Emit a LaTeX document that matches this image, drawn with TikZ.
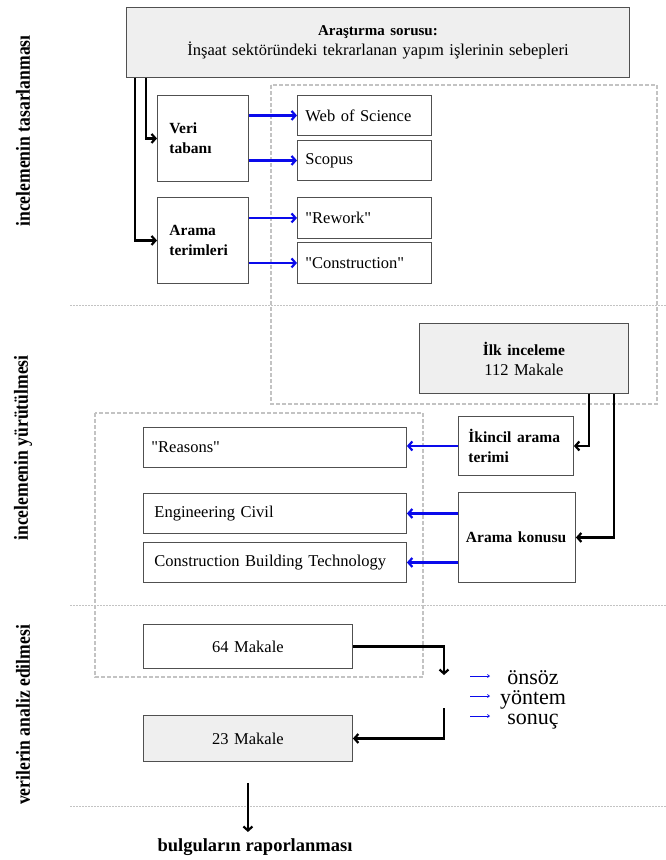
\documentclass[tikz,border=0pt]{standalone}
\usepackage{fontspec}
\setmainfont{Liberation Serif}
\usepackage{tikz}
\usetikzlibrary{arrows.meta,positioning,calc}
\definecolor{boxline}{RGB}{80,80,80}
\definecolor{boxfill}{RGB}{239,239,239}
\definecolor{dashgray}{RGB}{195,195,195}
\definecolor{arrblue}{RGB}{10,10,235}
\newcommand{\bx}{\fontsize{15.5}{23}\selectfont\bfseries}
\newcommand{\q}[1]{\textquotedbl#1\textquotedbl}
\newcommand{\side}[1]{\scalebox{0.88}[1]{\fontsize{20}{20}\selectfont\bfseries #1}}

\begin{document}
\begin{tikzpicture}[x=1pt,y=-1pt,
    box/.style={draw=boxline,line width=0.9pt,inner xsep=8pt,inner ysep=0pt,align=left,anchor=north west,font=\fontsize{16.5}{20}\selectfont},
    cbox/.style={box,align=center,inner xsep=0pt},
    gbox/.style={cbox,fill=boxfill},
    sidelabel/.style={rotate=90,inner sep=0pt},
    dashbox/.style={draw=dashgray,line width=1.1pt,dash pattern=on 4pt off 2pt},
    sep/.style={draw=dashgray,line width=0.8pt,dash pattern=on 2pt off 1pt},
    blk/.style={->,line width=2.2pt,black},
    blu/.style={->,line width=2.2pt,arrblue},
    thinarr/.style={-{Straight Barb[length=2pt,width=3pt]},line width=0.7pt,arrblue},
    >={Straight Barb[length=4pt,width=9pt]}]
    \useasboundingbox (0,0) rectangle (666,860);
    % phase separators and grouping frames
    \draw[sep] (70,305) -- (666,305);
    \draw[sep] (70,605) -- (666,605);
    \draw[sep] (70,806) -- (666,806);
    \draw[dashbox] (271,85) rectangle (657,404);
    \draw[dashbox] (95,413) rectangle (423,677);
    % side labels
    \node[sidelabel] (s1) at (23,131) {\side{incelemenin tasarlanması}};
    \node[sidelabel] (s2) at (23,448) {\side{incelemenin yürütülmesi}};
    \node[sidelabel] (s3) at (23,715) {\side{verilerin analiz edilmesi}};
    % design
    \node[gbox,text width=503pt,minimum height=70pt] (q) at (126,7)
      {{\fontsize{15}{22}\selectfont\bfseries Araştırma sorusu:}\\İnşaat sektöründeki tekrarlanan yapım işlerinin sebepleri};
    \node[box,inner xsep=12pt,text width=67pt,minimum height=86pt] (vt) at (157,95) {\bx Veri\\\bx tabanı};
    \node[box,inner xsep=12pt,text width=67pt,minimum height=86pt] (at) at (157,197) {\bx Arama\\\bx terimleri};
    \node[box,text width=118pt,minimum height=40pt] (wos) at (297,95) {Web of Science};
    \node[box,text width=118pt,minimum height=40pt] (sco) at (297,140) {Scopus};
    \node[box,text width=118pt,minimum height=41pt] (rew) at (297,197) {\q{Rework}};
    \node[box,text width=118pt,minimum height=41pt] (con) at (297,242) {\q{Construction}};
    \draw[blk] ([xshift=20pt]q.south west) |- (vt.west);
    \draw[blk] ([xshift=9pt]q.south west) |- (at.west);
    \draw[blu] (vt.east |- wos.west) -- (wos.west);
    \draw[blu] (vt.east |- sco.west) -- (sco.west);
    \draw[blu] (at.east |- rew.west) -- (rew.west);
    \draw[blu] (at.east |- con.west) -- (con.west);
    % conduct
    \node[gbox,text width=209pt,minimum height=70pt] (ilk) at (419,323) {{\bx İlk inceleme}\\112 Makale};
    \node[box,inner xsep=10pt,text width=95pt,minimum height=59pt] (ikt) at (458,416) {\bx İkincil arama\\\bx terimi};
    \node[box,inner xsep=7.5pt,text width=102pt,minimum height=90pt] (ak) at (458,492) {\bx Arama konusu};
    \node[box,text width=247pt,minimum height=40pt] (rea) at (143,427) {\q{Reasons}};
    \node[box,inner xsep=11pt,text width=241pt,minimum height=40pt] (eng) at (143,493) {Engineering Civil};
    \node[box,inner xsep=11pt,text width=241pt,minimum height=40pt] (cbt) at (143,542) {Construction Building Technology};
    \draw[blk] ([xshift=-40pt]ilk.south east) |- (ikt.east);
    \draw[blk] ([xshift=-15pt]ilk.south east) |- (ak.east);
    \draw[blu] (ikt.west) -- (rea.east |- ikt.west);
    \draw[blu] (ak.west |- eng.east) -- (eng.east);
    \draw[blu] (ak.west |- cbt.east) -- (cbt.east);
    % analysis
    \node[cbox,text width=209pt,minimum height=44pt] (m64) at (143,624) {64 Makale};
    \node[gbox,text width=209pt,minimum height=46pt] (m23) at (143,715) {23 Makale};
    \coordinate (c1) at (444,675);
    \coordinate (c2) at (444,708);
    \draw[blk] (m64.east) -| (c1);
    \draw[blk] (c2) |- (m23.east);
    \foreach \i/\w/\y in {1/önsöz/684,2/yöntem/704,3/sonuç/724} {
      \node[anchor=base,inner sep=0pt,font=\fontsize{22}{22}\selectfont] (w\i) at (533,\y) {\w};
      \coordinate (a\i) at (470,\y-8);
      \coordinate (b\i) at (490,\y-8);
      \draw[thinarr] (a\i) -- (b\i);
    }
    \node[anchor=base,inner sep=0pt,font=\fontsize{18.5}{20}\selectfont\bfseries] (bul) at (255,851) {bulguların raporlanması};
    \draw[blk] ([yshift=-21pt]m23.south) -- ([yshift=6pt]bul.north -| m23.south);
\end{tikzpicture}
\end{document}
